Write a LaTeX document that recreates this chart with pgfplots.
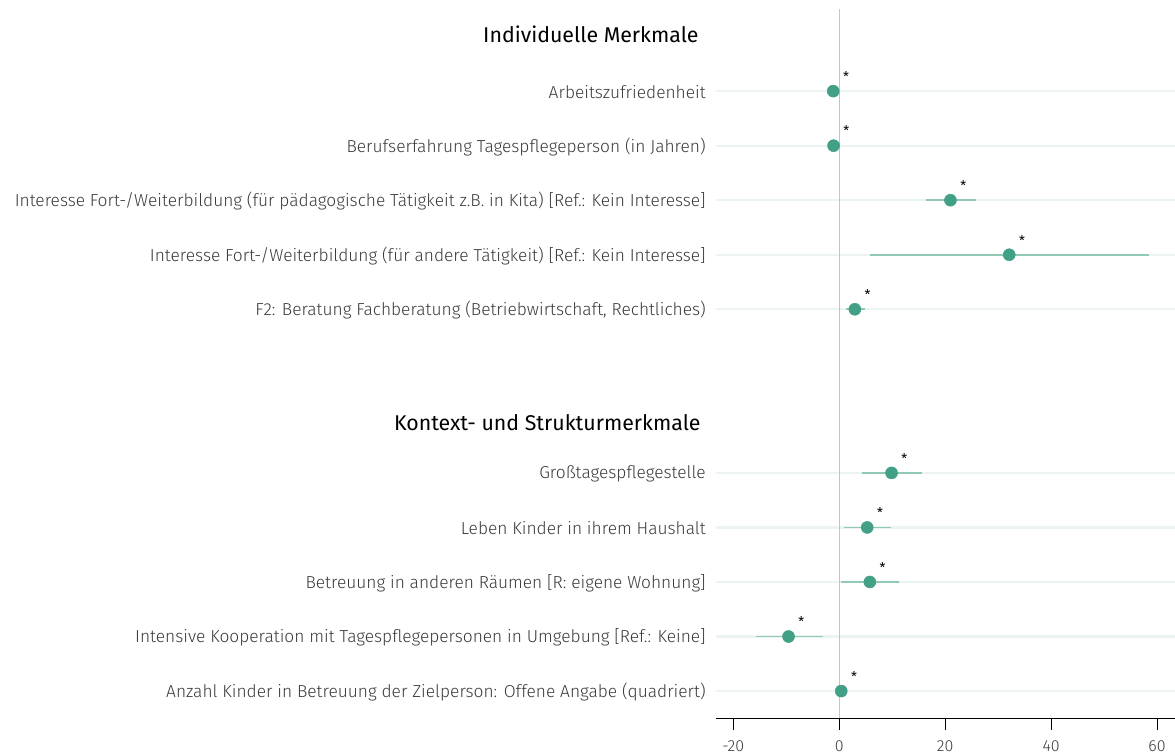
\documentclass[border=0pt]{standalone}
\usepackage{fontspec}
\setmainfont{Fira Sans}
\newfontfamily\lightfont{Fira Sans Light}
\usepackage{pgfplots}
\pgfplotsset{compat=1.18}

\definecolor{pt}{HTML}{41A085}
\definecolor{ci}{HTML}{90C9B4}
\definecolor{band}{HTML}{EBF3F3}
\definecolor{zero}{HTML}{C4C4C4}
\definecolor{lab}{HTML}{3A3A3A}

% y = row, x = estimate, el/eh = distance to lower/upper bound
\pgfplotstableread{
y  x      el    eh
12 -1.13  0.3   0.3
11 -1.07  0.3   0.3
10 21.0   4.57  4.8
9  32.1   26.38 26.4
8  2.95   1.65  1.95
5  9.88   5.61  5.79
4  5.28   4.41  4.47
3  5.78   5.53  5.55
2  -9.57  6.18  6.42
1  0.38   0.2   0.2
}\est

\begin{document}
\begin{tikzpicture}
\useasboundingbox (0,0) rectangle (881.25pt,566.25pt);
\begin{axis}[
  at={(537pt,27.5pt)}, anchor=south west,
  scale only axis, width=344.25pt, height=531.75pt,
  xmin=-23.27, xmax=63.4, ymin=0.5, ymax=13.5,
  clip=false,
  axis x line*=bottom, axis y line*=left,
  y axis line style={draw=none},
  x axis line style={line width=0.9pt},
  xtick={-20,0,20,40,60},
  xticklabels={-20,0,20,40,60},
  xtick style={black, line width=0.6pt},
  tick align=outside,
  major tick length=8.5pt,
  xticklabel style={font=\lightfont\fontsize{12}{12}\selectfont, text=lab, yshift=-5pt},
  ytick={1,2,3,4,5,8,9,10,11,12},
  yticklabels={
    Anzahl Kinder in Betreuung der Zielperson: Offene Angabe (quadriert),
    Intensive Kooperation mit Tagespflegepersonen in Umgebung {[Ref.: Keine]},
    Betreuung in anderen Räumen {[R: eigene Wohnung]},
    Leben Kinder in ihrem Haushalt,
    Großtagespflegestelle,
    {F2: Beratung Fachberatung (Betriebwirtschaft, Rechtliches)},
    Interesse Fort-/Weiterbildung (für andere Tätigkeit) {[Ref.: Kein Interesse]},
    Interesse Fort-/Weiterbildung (für pädagogische Tätigkeit z.B. in Kita) {[Ref.: Kein Interesse]},
    Berufserfahrung Tagespflegeperson (in Jahren),
    Arbeitszufriedenheit},
  ytick style={draw=none},
  yticklabel style={font=\lightfont\fontsize{13}{13}\selectfont, text=lab, anchor=east, inner sep=0pt, xshift=1pt, yshift=-0.7pt},
  ymajorgrids,
  major grid style={band, line width=1.6pt},
  extra x ticks={0},
  extra x tick labels={},
  extra x tick style={grid=major, major grid style={zero, line width=0.9pt}, major tick length=0pt},
]
\addplot[draw=none, mark=*, mark size=4.5pt, mark options={fill=pt, draw=pt},
  error bars/.cd, x dir=both, x explicit, error mark=none,
  error bar style={ci, line width=1.4pt}]
  table[x=x, y=y, x error minus=el, x error plus=eh] {\est};
\addplot[draw=none, only marks, mark=none,
  nodes near coords={*},
  nodes near coords style={anchor=center, xshift=9.6pt, yshift=11pt,
    font=\fontsize{10}{10}\selectfont, text=black}]
  table[x=x, y=y] {\est};
\node[anchor=east, font=\fontsize{16}{16}\selectfont, text=black] at (axis cs:-23.27,13) [xshift=-9.5pt, yshift=2pt] {Individuelle Merkmale};
\node[anchor=east, font=\fontsize{16}{16}\selectfont, text=black] at (axis cs:-23.27,5.9) [xshift=-8pt, yshift=1pt] {Kontext- und Strukturmerkmale};
\end{axis}
\end{tikzpicture}
\end{document}
